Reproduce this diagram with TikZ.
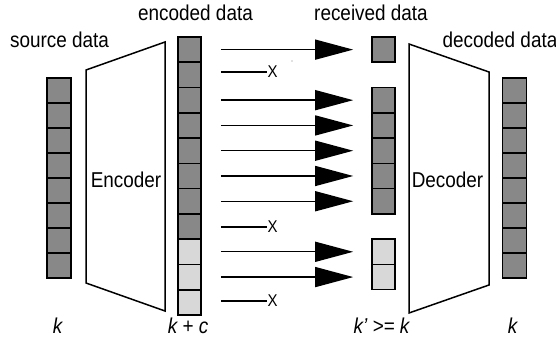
\documentclass[tikz,border=0pt]{standalone}
\usepackage{fontspec}
\setmainfont[FakeStretch=0.88]{Liberation Sans}
\usetikzlibrary{arrows.meta}
\definecolor{cdark}{HTML}{888888}
\definecolor{clight}{HTML}{D8D8D8}
\begin{document}
\begin{tikzpicture}[x=1pt,y=-1pt,
  cellbox/.style={draw=black,line width=1.6pt,inner sep=0pt,minimum width=23pt,minimum height=25.2pt},
  darkcell/.style={cellbox,fill=cdark},
  lightcell/.style={cellbox,fill=clight},
  srccell/.style={draw=black,line width=1.6pt,inner sep=0pt,minimum width=24pt,minimum height=25pt,fill=cdark},
  lbl/.style={anchor=base,inner sep=0pt,font=\fontsize{21.5}{24}\selectfont},
  klbl/.style={lbl,font=\fontsize{21.5}{24}\selectfont\itshape},
  xlbl/.style={anchor=west,inner sep=0pt,font=\fontsize{17}{19}\selectfont},
  arr/.style={line width=1.4pt,-{Triangle[length=38pt,width=20pt]},shorten <=19pt,shorten >=18pt},
  lost/.style={line width=1.4pt},
  trap/.style={line width=1.5pt,line join=miter}]
\useasboundingbox (0,0) rectangle (556,339);
% source data column
\foreach \i in {1,...,8} \node[srccell] (s\i) at (59,{78+(\i-0.5)*25}) {};
% decoded data column
\foreach \i in {1,...,8} \node[srccell] (d\i) at (514.5,{78+(\i-0.5)*25}) {};
% encoded data column
\foreach \i in {1,...,8} \node[darkcell] (e\i) at (189.5,{37+(\i-0.5)*25.27}) {};
\foreach \i in {9,10,11} \node[lightcell] (e\i) at (189.5,{37+(\i-0.5)*25.27}) {};
% received data column
\foreach \i in {1,3,4,5,6,7} \node[darkcell] (r\i) at (383.5,{37+(\i-0.5)*25.27}) {};
\foreach \i in {9,10} \node[lightcell] (r\i) at (383.5,{37+(\i-0.5)*25.27}) {};
% encoder / decoder
\draw[trap] (86,70) -- (165,42) -- (165,311) -- (86,283) -- cycle;
\draw[trap] (409,44) -- (489,72) -- (489,285) -- (409,313) -- cycle;
\node[lbl] (enc) at (126,187.3) {Encoder};
\node[lbl] (dec) at (447.5,187.3) {Decoder};
% transmitted symbols
\foreach \i in {1,3,4,5,6,7,9,10} \draw[arr] (e\i.east) -- (r\i.west);
% lost symbols
\coordinate (x2) at (267,72);
\coordinate (x8) at (267,227);
\coordinate (x11) at (267,301);
\draw[lost] ([xshift=19pt]e2.east |- x2) -- (x2) node[xlbl] (lx2) {X};
\draw[lost] ([xshift=19pt]e8.east |- x8) -- (x8) node[xlbl] (lx8) {X};
\draw[lost] ([xshift=19pt]e11.east |- x11) -- (x11) node[xlbl] (lx11) {X};
\fill[gray] (292,61) circle (0.6pt);
% titles
\node[lbl] (tsrc) at (59.5,47.7) {source data};
\node[lbl] (tenc) at (195.5,20.5) {encoded data};
\node[lbl] (trec) at (371,20.5) {received data};
\node[lbl] (tdec) at (500,47.7) {decoded data};
% sizes
\node[klbl] (k1) at (57.5,333) {k};
\node[klbl] (k2) at (188,333) {k + c};
\node[klbl] (k3) at (381.5,333) {k\char"0027{} >= k};
\node[klbl] (k4) at (512.5,333) {k};
\end{tikzpicture}
\end{document}
